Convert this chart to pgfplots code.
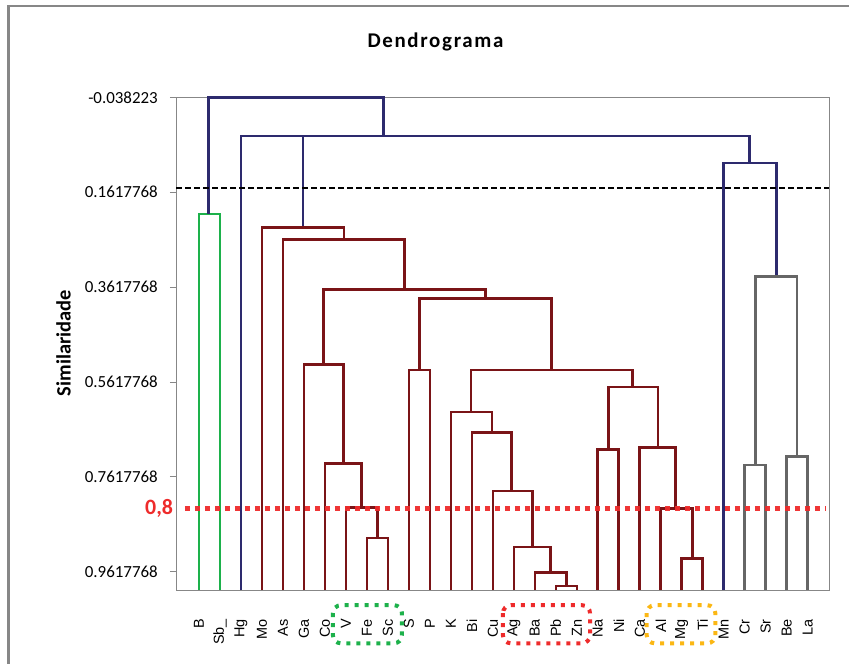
\documentclass[border=0pt]{standalone}
\usepackage{pgfplots}
\pgfplotsset{compat=1.18}
\usepackage{fontspec}
\setmainfont{Carlito}
\newfontfamily\leaffont{Liberation Sans}

\definecolor{dnavy}{HTML}{2D2A6E}
\definecolor{dmaroon}{HTML}{7A1417}
\definecolor{dgreen}{HTML}{1DB14B}
\definecolor{dgrey}{HTML}{666666}
\definecolor{cutred}{HTML}{EE2B2B}
\definecolor{boxorange}{HTML}{FBB714}
\definecolor{axgrey}{HTML}{878787}

\begin{document}
\begin{tikzpicture}
\useasboundingbox (0,0) rectangle (849bp,-664bp);
% outer chart frame
\draw[axgrey, line width=3bp] (8.5bp,-664bp) -- (8.5bp,-6bp);
\draw[axgrey, line width=1.2bp] (7bp,-6bp) -- (849bp,-6bp);
\node[font=\fontsize{21}{24}\selectfont\bfseries\addfontfeature{LetterSpace=8}] at (435.5bp,-42bp) {Dendrograma};

\begin{axis}[
  at={(176bp,-97.3bp)}, anchor=north west,
  scale only axis, width=653.3bp, height=492.7bp,
  xmin=-0.096, xmax=31.03, ymin=-0.038223, ymax=1.0,
  y dir=reverse,
  clip=false,
  axis line style={axgrey, line width=1bp},
  xtick={1,...,30},
  xticklabels={B,Sb\_,Hg,Mo,As,Ga,Co,V,Fe,Sc,S,P,K,Bi,Cu,Ag,Ba,Pb,Zn,Na,Ni,Ca,Al,Mg,Ti,Mn,Cr,Sr,Be,La},
  x tick label style={rotate=90, anchor=east, inner sep=0pt, font=\leaffont\fontsize{14.5}{16}\selectfont},
  xticklabel shift=23bp,
  x tick style={draw=none},
  ytick pos=left,
  ytick={-0.038223,0.1617768,0.3617768,0.5617768,0.7617768,0.9617768},
  yticklabels={-0.038223,0.1617768,0.3617768,0.5617768,0.7617768,0.9617768},
  y tick label style={anchor=east, inner sep=0pt, font=\fontsize{17}{20}\selectfont},
  yticklabel shift=12bp,
  y tick style={axgrey, line width=1bp},
  tick align=outside,
  major tick length=6bp,
  ylabel={Similaridade},
  ylabel style={at={(axis description cs:-0.172,0.501)}, anchor=center, rotate=0, font=\fontsize{20.5}{24}\selectfont\bfseries},
  every axis plot/.append style={line width=2.6bp, line join=miter, line cap=butt},
]
% B and Sb_
\addplot[dgreen] coordinates {(1,1.0) (1,0.2073) (2,0.2073) (2,1.0)};

% upper links
\addplot[dnavy] coordinates {(1.45,0.2073) (1.45,-0.038223) (9.78,-0.038223) (9.78,0.0435)};
\addplot[dnavy] coordinates {(3,1.0) (3,0.0435) (27.24,0.0435) (27.24,0.1005)};
\addplot[dnavy] coordinates {(5.95,0.0435) (5.95,0.2362)};
\addplot[dnavy] coordinates {(26,1.0) (26,0.1005) (28.5,0.1005) (28.5,0.3397)};

% Cr, Sr, Be, La
\addplot[dgrey] coordinates {(27.5,0.7366) (27.5,0.3397) (29.5,0.3397) (29.5,0.7182)};
\addplot[dgrey] coordinates {(27,1.0) (27,0.7366) (28,0.7366) (28,1.0)};
\addplot[dgrey] coordinates {(29,1.0) (29,0.7182) (30,0.7182) (30,1.0)};

% main group
\addplot[dmaroon] coordinates {(4,1.0) (4,0.2362) (7.9,0.2362) (7.9,0.2616)};
\addplot[dmaroon] coordinates {(5,1.0) (5,0.2616) (10.79,0.2616) (10.79,0.3671)};
\addplot[dmaroon] coordinates {(6.94,0.5254) (6.94,0.3671) (14.64,0.3671) (14.64,0.3861)};
\addplot[dmaroon] coordinates {(6,1.0) (6,0.5254) (7.875,0.5254) (7.875,0.7338)};
\addplot[dmaroon] coordinates {(7,1.0) (7,0.7338) (8.75,0.7338) (8.75,0.8267)};
\addplot[dmaroon] coordinates {(8,1.0) (8,0.8267) (9.5,0.8267) (9.5,0.8900)};
\addplot[dmaroon] coordinates {(9,1.0) (9,0.8900) (10,0.8900) (10,1.0)};
\addplot[dmaroon] coordinates {(11.5,0.5366) (11.5,0.3861) (17.8,0.3861) (17.8,0.5366)};
\addplot[dmaroon] coordinates {(11,1.0) (11,0.5366) (12,0.5366) (12,1.0)};
\addplot[dmaroon] coordinates {(13.96,0.6247) (13.96,0.5366) (21.66,0.5366) (21.66,0.5719)};
\addplot[dmaroon] coordinates {(13,1.0) (13,0.6247) (14.95,0.6247) (14.95,0.6684)};
\addplot[dmaroon] coordinates {(14,1.0) (14,0.6684) (15.9,0.6684) (15.9,0.7914)};
\addplot[dmaroon] coordinates {(15,1.0) (15,0.7914) (16.88,0.7914) (16.88,0.9097)};
\addplot[dmaroon] coordinates {(16,1.0) (16,0.9097) (17.76,0.9097) (17.76,0.9631)};
\addplot[dmaroon] coordinates {(17,1.0) (17,0.9631) (18.5,0.9631) (18.5,0.9913)};
\addplot[dmaroon] coordinates {(18,1.0) (18,0.9913) (19,0.9913) (19,1.0)};
\addplot[dmaroon] coordinates {(20.5,0.7042) (20.5,0.5719) (22.86,0.5719) (22.86,0.6999)};
\addplot[dmaroon] coordinates {(20,1.0) (20,0.7042) (21,0.7042) (21,1.0)};
\addplot[dmaroon] coordinates {(22,1.0) (22,0.6999) (23.71,0.6999) (23.71,0.8280)};
\addplot[dmaroon] coordinates {(23,1.0) (23,0.8280) (24.5,0.8280) (24.5,0.9335)};
\addplot[dmaroon] coordinates {(24,1.0) (24,0.9335) (25,0.9335) (25,1.0)};

% cut lines
\addplot[black, line width=2bp, dash pattern=on 6bp off 3bp] coordinates {(-0.096,0.1533) (31.03,0.1533)};
\addplot[cutred, line width=5bp, dash pattern=on 5bp off 5bp, opacity=0.95] coordinates {(0.33,0.8273) (30.85,0.8273)};
\node[anchor=east, text=cutred, inner sep=0pt, xshift=-2.7bp, font=\fontsize{22}{24}\selectfont\bfseries] at (axis cs:-0.096,0.8273) {0,8};

% highlighted groups
\draw[dgreen, line width=4bp, dash pattern=on 4bp off 6bp, rounded corners=8bp] (axis cs:7.38,1.032) rectangle (axis cs:10.67,1.1123);
\draw[cutred, line width=4bp, dash pattern=on 4bp off 6bp, rounded corners=8bp] (axis cs:15.48,1.032) rectangle (axis cs:19.63,1.1123);
\draw[boxorange, line width=4bp, dash pattern=on 4bp off 6bp, rounded corners=8bp] (axis cs:22.33,1.032) rectangle (axis cs:25.6,1.1123);
\end{axis}
\end{tikzpicture}
\end{document}
